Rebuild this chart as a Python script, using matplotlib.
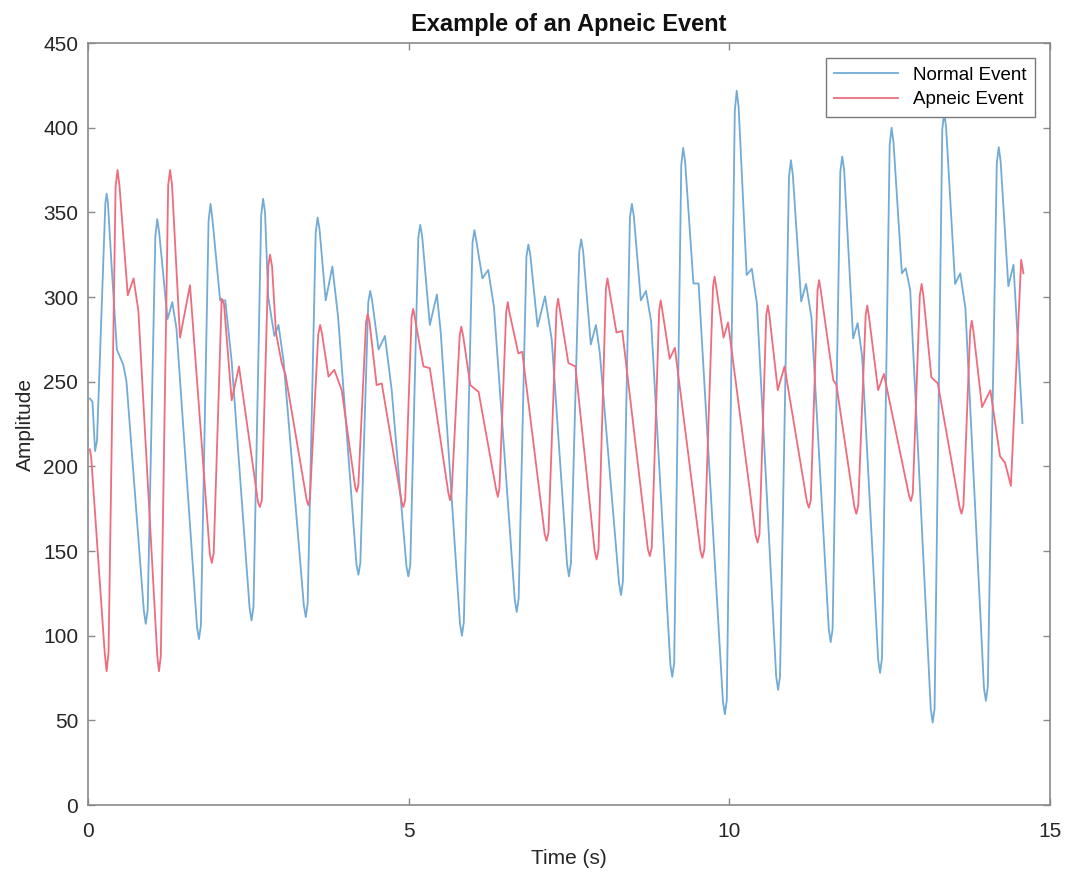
#!/usr/bin/env python

import matplotlib
matplotlib.use("Agg")
import matplotlib.pyplot as plt

# peaks, troughs and shoulders (time in s, amplitude)
t_normal = [0.03, 0.07, 0.11, 0.14, 0.27, 0.29, 0.31, 0.37, 0.45, 0.55, 0.60,
            0.87, 0.90, 0.93, 1.05, 1.08, 1.11, 1.24, 1.315, 1.38,
            1.70, 1.73, 1.76, 1.88, 1.91, 1.94, 2.06, 2.14, 2.24,
            2.52, 2.55, 2.58, 2.70, 2.73, 2.76, 2.81, 2.906, 2.97, 3.05,
            3.365, 3.395, 3.425, 3.55, 3.58, 3.61, 3.706, 3.81, 3.90,
            4.186, 4.216, 4.246, 4.37, 4.40, 4.43, 4.53, 4.63, 4.735,
            4.965, 4.995, 5.025, 5.15, 5.18, 5.21, 5.33, 5.44, 5.50,
            5.80, 5.83, 5.86, 5.995, 6.025, 6.055, 6.15, 6.24, 6.33,
            6.655, 6.685, 6.715, 6.836, 6.866, 6.896, 7.01, 7.126, 7.23,
            7.47, 7.50, 7.53, 7.66, 7.69, 7.72, 7.84, 7.92, 7.98,
            8.28, 8.31, 8.34, 8.45, 8.48, 8.51, 8.62, 8.70, 8.78,
            9.08, 9.11, 9.14, 9.25, 9.28, 9.31, 9.44, 9.52,
            9.90, 9.93, 9.96, 10.085, 10.115, 10.145, 10.27, 10.35, 10.43,
            10.73, 10.76, 10.79, 10.93, 10.96, 10.99, 11.12, 11.196, 11.28,
            11.55, 11.58, 11.61, 11.73, 11.76, 11.79, 11.93, 12.0, 12.07,
            12.32, 12.35, 12.38, 12.50, 12.53, 12.56, 12.69, 12.75, 12.82,
            13.14, 13.17, 13.20, 13.32, 13.35, 13.38, 13.52, 13.60, 13.68,
            13.97, 14.00, 14.03, 14.17, 14.20, 14.23, 14.35, 14.43, 14.57]
normal = [240, 238, 209, 215, 355, 361, 356, 317, 269, 260, 250,
          115, 107, 115, 336, 346, 338, 287, 297, 281,
          105, 98, 106, 345, 355, 346, 298, 298, 262,
          116, 109, 117, 348, 358, 350, 300, 277, 283.5, 262,
          118, 111, 119, 338, 347, 340, 298, 318, 288,
          142, 136, 143, 297, 303.6, 298, 269, 277, 245,
          141, 135, 142, 335, 342.6, 336, 283.5, 301.5, 279,
          107, 100, 108, 332, 339.5, 333, 311, 316, 294,
          121, 114, 122, 324, 331, 325, 282.5, 300.4, 275,
          142, 135, 143, 327, 334, 327, 272, 283.5, 267,
          131, 124, 132, 347, 355, 348, 298, 303.6, 285.6,
          83, 75.7, 84, 378, 388, 380, 308, 308,
          61, 53.6, 62, 410, 421.8, 412, 313, 316.7, 296,
          76, 68, 76, 371, 380.8, 372, 297.4, 307.7, 288,
          104, 96.2, 104, 374, 383, 375, 275.6, 284.6, 265,
          86, 78, 87, 390, 400, 391, 314, 317, 304,
          57, 48.7, 57, 399, 409, 400, 307.7, 314, 293.6,
          69, 61.5, 70, 379, 388.5, 380, 306.4, 319, 225.6]

t_apneic = [0.03, 0.05, 0.26, 0.29, 0.32, 0.43, 0.46, 0.49, 0.62, 0.71, 0.785,
            1.08, 1.107, 1.135, 1.25, 1.28, 1.31, 1.435, 1.59,
            1.90, 1.93, 1.96, 2.084, 2.12, 2.24, 2.354,
            2.65, 2.68, 2.71, 2.81, 2.838, 2.87, 2.93, 3.02, 3.08,
            3.41, 3.436, 3.46, 3.59, 3.62, 3.65, 3.75, 3.84, 3.956,
            4.165, 4.19, 4.215, 4.335, 4.36, 4.39, 4.50, 4.58,
            4.89, 4.917, 4.945, 5.045, 5.07, 5.10, 5.23, 5.33,
            5.62, 5.645, 5.67, 5.795, 5.82, 5.85, 5.96, 6.09,
            6.365, 6.39, 6.415, 6.52, 6.545, 6.57, 6.71, 6.77,
            7.12, 7.15, 7.18, 7.305, 7.33, 7.355, 7.49, 7.60,
            7.90, 7.93, 7.96, 8.075, 8.10, 8.125, 8.24, 8.33,
            8.73, 8.76, 8.79, 8.905, 8.93, 8.955, 9.07, 9.15,
            9.55, 9.58, 9.61, 9.745, 9.77, 9.795, 9.91, 9.98,
            10.41, 10.44, 10.47, 10.575, 10.60, 10.625, 10.755, 10.86,
            11.21, 11.24, 11.27, 11.375, 11.40, 11.425, 11.62, 11.67,
            11.95, 11.98, 12.01, 12.125, 12.15, 12.175, 12.32, 12.41,
            12.80, 12.83, 12.86, 12.97, 12.998, 13.025, 13.15, 13.25,
            13.59, 13.62, 13.65, 13.755, 13.78, 13.805, 13.94, 14.07,
            14.22, 14.30, 14.39, 14.55, 14.585]
apneic = [210, 205, 90, 79, 90, 365, 375, 366, 301, 311, 292,
          88, 79, 88, 366, 375, 366, 276, 307,
          148, 143, 149, 299, 296, 239, 259,
          179, 176, 180, 318, 325, 318, 279, 261, 254,
          180, 177, 181, 278, 283.5, 278, 253, 257, 245,
          188, 185, 189, 285, 290, 285, 248, 249,
          179, 176, 180, 288, 293, 287, 259, 258,
          184, 180, 185, 277, 282.5, 277, 248, 244,
          186, 182, 187, 291, 297, 291, 266.7, 267.7,
          160, 156, 161, 293, 299, 293, 261, 259,
          150, 145, 151, 305, 311, 305, 279, 280,
          151, 147, 152, 292, 298, 292, 263.5, 270,
          150, 146, 151, 306, 312, 306, 276, 285,
          159, 155, 160, 289, 295, 289, 245, 259,
          179, 175.6, 180, 304, 310, 304, 251, 248,
          176, 172, 177, 289, 295, 289, 245, 254.6,
          183, 179.5, 184, 301, 307.7, 301, 252.6, 249,
          176, 172, 177, 280, 286, 280, 235, 245,
          206, 202, 188.5, 322, 314]

x_ticks = [0, 5, 10, 15]
y_ticks = [0, 50, 100, 150, 200, 250, 300, 350, 400, 450]


def main():
    plt.rcParams['font.family'] = ['Liberation Sans', 'DejaVu Sans']

    fig = plt.figure(figsize=(10.72, 8.74), dpi=100)
    ax = fig.add_axes([0.0821, 0.0789, 0.8974, 0.8719])

    ax.plot(t_normal, normal, color='#72abd6', lw=1.3, label='Normal Event')
    ax.plot(t_apneic, apneic, color='#ef6c7e', lw=1.3, label='Apneic Event')

    ax.set_xlim(0, 15)
    ax.set_ylim(0, 450)
    ax.set_xticks(x_ticks)
    ax.set_yticks(y_ticks)

    for s in ax.spines.values():
        s.set_color('#8a8a8a')
        s.set_linewidth(1.2)
    ax.tick_params(direction='in', length=5, width=1, color='#8a8a8a',
                   top=True, right=True, labelsize=15, labelcolor='#262626')
    ax.tick_params(axis='x', pad=12)
    ax.tick_params(axis='y', pad=7)

    ax.set_title('Example of an Apneic Event', fontsize=17, fontweight='bold',
                 color='#111111', pad=9)
    ax.set_xlabel('Time (s)', fontsize=15, color='#262626', labelpad=6)
    ax.set_ylabel('Amplitude', fontsize=15, color='#262626', labelpad=6)

    leg = ax.legend(loc='upper right', fontsize=13.5, fancybox=False,
                    framealpha=1, edgecolor='#7a7a7a', handlelength=3.4,
                    borderaxespad=0.8, labelspacing=0.4, borderpad=0.45)
    leg.get_frame().set_linewidth(1.0)

    fig.savefig('out.png', dpi=100)


if __name__ == "__main__":
    main()
